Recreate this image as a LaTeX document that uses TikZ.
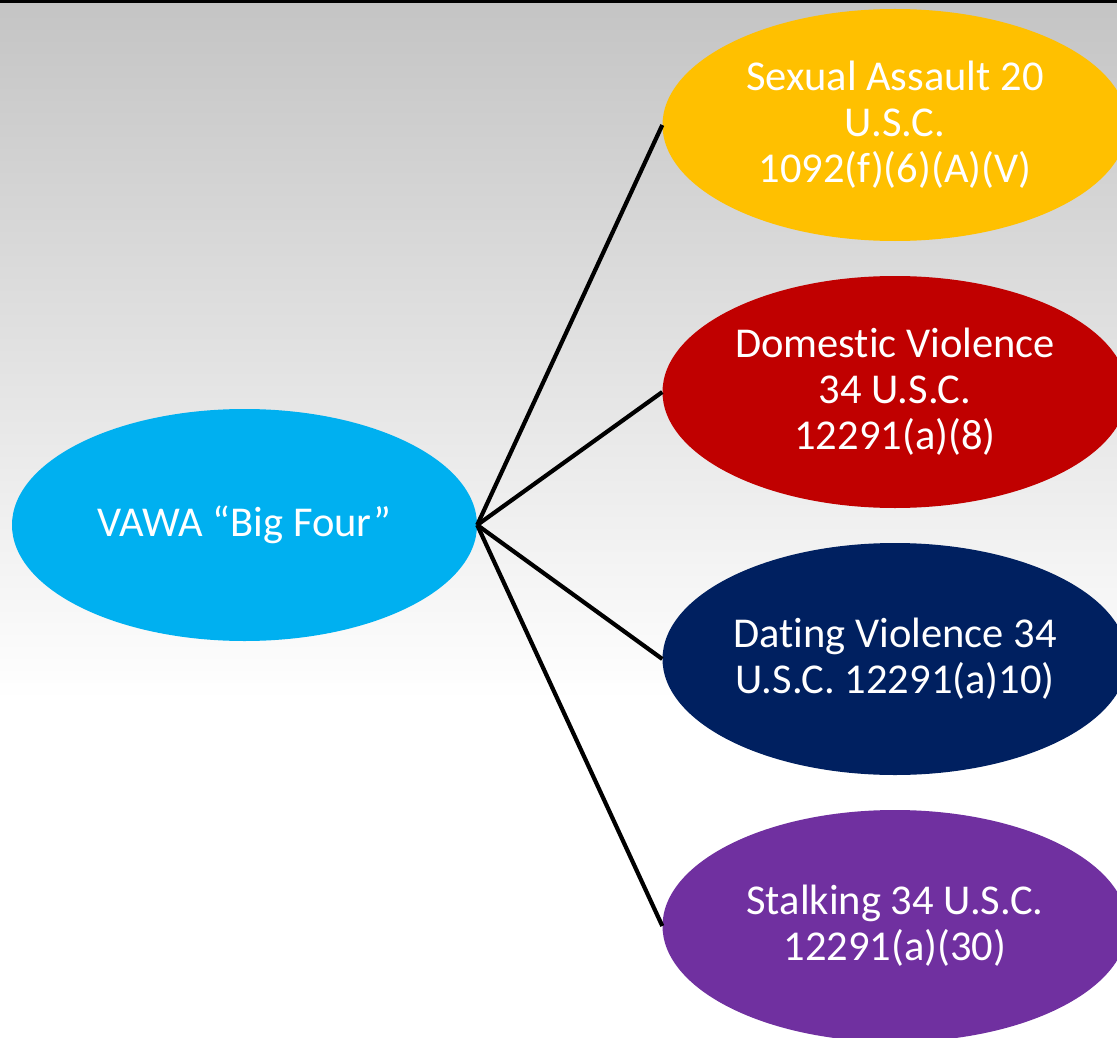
\documentclass[tikz,border=0pt]{standalone}
\usepackage{fontspec}
\setmainfont{Carlito}[Ligatures=NoCommon]
\usetikzlibrary{shapes.geometric}
\definecolor{cYellow}{HTML}{FFC000}
\definecolor{cRed}{HTML}{C00000}
\definecolor{cNavy}{HTML}{002060}
\definecolor{cPurple}{HTML}{7030A0}
\definecolor{cBlue}{HTML}{00B0F0}
\definecolor{bgTop}{HTML}{C4C4C4}
\definecolor{bgBot}{HTML}{FFFFFF}
\tikzset{
  oval/.style={ellipse, draw=none, minimum width=465pt, minimum height=232pt, inner sep=0pt,
    text=white, align=center, font=\fontsize{42.5}{46}\selectfont},
  link/.style={line width=4.2pt, black},
}
\begin{document}
\begin{tikzpicture}[x=1pt,y=-1pt]
\useasboundingbox (0,0) rectangle (1117,1038);
\shade[top color=bgTop, bottom color=bgBot] (0,0) rectangle (1117,700);
\fill[white] (0,700) rectangle (1117,1038);
\fill[black] (0,0) rectangle (1117,3);
\node[oval, fill=cBlue] (big) at (244.5,525) {VAWA “Big Four”};
\node[oval, fill=cYellow] (sa) at (895,125) {Sexual Assault 20\\U.S.C.\\1092(f)(6)(A)(V)};
\node[oval, fill=cRed] (dv) at (895,392) {Domestic Violence\\34 U.S.C.\\12291(a)(8)};
\node[oval, fill=cNavy] (dt) at (895,659) {Dating Violence 34\\U.S.C. 12291(a)10)};
\node[oval, fill=cPurple] (st) at (895,926) {Stalking 34 U.S.C.\\12291(a)(30)};
\draw[link] (big.east) -- (sa.west);
\draw[link] (big.east) -- (dv.west);
\draw[link] (big.east) -- (dt.west);
\draw[link] (big.east) -- (st.west);
\end{tikzpicture}
\end{document}
